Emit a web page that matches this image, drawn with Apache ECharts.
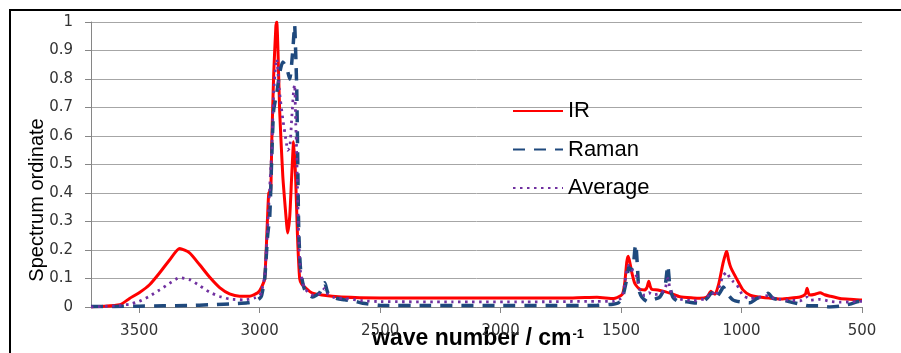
<!DOCTYPE html>
<html>
<head>
<meta charset="utf-8">
<script src="https://cdn.jsdelivr.net/npm/echarts@6/dist/echarts.min.js"></script>
<style>
  html, body { margin: 0; padding: 0; background: #fff; }
  #chart { width: 901px; height: 353px; }
</style>
</head>
<body>
<div id="chart"></div>
<script>
// wave numbers (cm-1) and ordinates
const irX = [3700, 3665, 3580, 3540, 3500, 3457, 3415, 3374, 3332, 3291, 3249, 3208, 3166, 3125, 3083, 3042, 3008, 2992, 2979, 2967, 2962, 2954, 2950, 2942, 2933, 2929, 2924, 2917, 2904, 2888, 2884, 2875, 2867, 2859, 2851, 2843, 2834, 2825, 2813, 2784, 2742, 2660, 2500, 2200, 1900, 1700, 1600, 1530, 1500, 1492, 1484, 1476, 1470, 1462, 1455, 1443, 1422, 1401, 1392, 1385, 1378, 1372, 1347, 1318, 1289, 1256, 1200, 1173, 1144, 1127, 1118, 1110, 1094, 1077, 1065, 1061, 1055, 1048, 1040, 1019, 994, 965, 936, 882, 840, 811, 757, 735, 728, 722, 716, 695, 674, 655, 633, 591, 550, 508, 500]
const irY = [0.0, 0.002, 0.008, 0.03, 0.05, 0.078, 0.12, 0.165, 0.205, 0.19, 0.148, 0.105, 0.068, 0.046, 0.038, 0.038, 0.05, 0.07, 0.1, 0.32, 0.4, 0.41, 0.57, 0.81, 0.98, 1.0, 0.9, 0.69, 0.46, 0.29, 0.26, 0.32, 0.46, 0.58, 0.46, 0.25, 0.1, 0.08, 0.07, 0.05, 0.042, 0.035, 0.032, 0.032, 0.032, 0.032, 0.034, 0.03, 0.04, 0.05, 0.09, 0.16, 0.178, 0.15, 0.12, 0.083, 0.062, 0.06, 0.07, 0.09, 0.07, 0.062, 0.06, 0.054, 0.046, 0.036, 0.032, 0.031, 0.035, 0.055, 0.048, 0.045, 0.083, 0.153, 0.19, 0.195, 0.17, 0.147, 0.13, 0.097, 0.06, 0.042, 0.036, 0.031, 0.028, 0.03, 0.035, 0.045, 0.066, 0.048, 0.042, 0.045, 0.05, 0.043, 0.038, 0.03, 0.027, 0.025, 0.025]

const ramanX = [3700, 3600, 3500, 3400, 3300, 3200, 3100, 3050, 3020, 3000, 2992, 2979, 2967, 2958, 2950, 2942, 2929, 2917, 2904, 2888, 2875, 2867, 2860, 2855, 2850, 2846, 2842, 2838, 2830, 2813, 2780, 2751, 2730, 2717, 2689, 2647, 2614, 2572, 2502, 2300, 2000, 1800, 1600, 1534, 1510, 1492, 1476, 1468, 1460, 1450, 1443, 1439, 1432, 1426, 1414, 1389, 1368, 1339, 1318, 1306, 1297, 1285, 1264, 1227, 1173, 1144, 1123, 1110, 1090, 1075, 1062, 1036, 1007, 965, 936, 911, 890, 869, 828, 799, 757, 716, 674, 633, 591, 550, 508, 500]
const ramanY = [0.002, 0.002, 0.003, 0.004, 0.005, 0.008, 0.012, 0.015, 0.02, 0.03, 0.04, 0.1, 0.25, 0.32, 0.52, 0.69, 0.75, 0.82, 0.86, 0.84, 0.8, 0.855, 0.93, 0.99, 0.88, 0.76, 0.52, 0.28, 0.13, 0.06, 0.035, 0.05, 0.085, 0.05, 0.032, 0.025, 0.022, 0.013, 0.006, 0.005, 0.005, 0.005, 0.006, 0.01, 0.015, 0.04, 0.1, 0.14, 0.13, 0.14, 0.2, 0.22, 0.14, 0.06, 0.035, 0.018, 0.025, 0.035, 0.07, 0.145, 0.07, 0.035, 0.02, 0.018, 0.013, 0.03, 0.05, 0.03, 0.05, 0.07, 0.05, 0.025, 0.018, 0.015, 0.03, 0.036, 0.048, 0.03, 0.025, 0.018, 0.01, 0.004, 0.004, 0.0, 0.003, 0.01, 0.02, 0.02]

const avgX = [3700, 3600, 3540, 3500, 3457, 3415, 3374, 3332, 3291, 3249, 3208, 3166, 3125, 3063, 3021, 3000, 2992, 2979, 2967, 2962, 2950, 2942, 2933, 2929, 2922, 2917, 2904, 2888, 2884, 2875, 2867, 2859, 2855, 2850, 2846, 2842, 2838, 2830, 2813, 2780, 2751, 2730, 2717, 2689, 2647, 2572, 2500, 2200, 1900, 1600, 1534, 1500, 1492, 1476, 1468, 1455, 1443, 1432, 1422, 1401, 1385, 1368, 1339, 1318, 1306, 1297, 1285, 1256, 1200, 1150, 1123, 1110, 1094, 1077, 1065, 1061, 1048, 1036, 1019, 994, 965, 936, 890, 882, 840, 800, 757, 728, 716, 674, 633, 591, 550, 508, 500]
const avgY = [0.0, 0.004, 0.01, 0.02, 0.038, 0.06, 0.083, 0.103, 0.096, 0.075, 0.052, 0.037, 0.028, 0.025, 0.032, 0.04, 0.055, 0.11, 0.28, 0.36, 0.55, 0.75, 0.85, 0.87, 0.8, 0.75, 0.66, 0.57, 0.55, 0.56, 0.66, 0.76, 0.78, 0.64, 0.53, 0.38, 0.25, 0.12, 0.065, 0.042, 0.046, 0.065, 0.045, 0.033, 0.03, 0.022, 0.019, 0.018, 0.018, 0.02, 0.02, 0.03, 0.045, 0.13, 0.147, 0.13, 0.12, 0.1, 0.06, 0.04, 0.05, 0.043, 0.047, 0.062, 0.1, 0.065, 0.04, 0.028, 0.022, 0.03, 0.052, 0.038, 0.066, 0.11, 0.12, 0.122, 0.1, 0.09, 0.077, 0.04, 0.03, 0.033, 0.04, 0.035, 0.027, 0.024, 0.022, 0.035, 0.024, 0.027, 0.02, 0.017, 0.018, 0.02, 0.02]

const xTicks = [500, 1000, 1500, 2000, 2500, 3000, 3500]

const zip = (xs, ys) => xs.map((x, i) => [x, ys[i]])

const chart = echarts.init(document.getElementById('chart'))

const option = {
  animation: false,
  backgroundColor: '#fff',
  textStyle: { fontFamily: 'Liberation Sans' },
  grid: { left: 91, right: 39, top: 22, bottom: 46 },
  legend: {
    orient: 'vertical',
    left: 512,
    top: 100,
    padding: 0,
    itemWidth: 50,
    itemHeight: 14,
    itemGap: 16.5,
    // hide the marker dot, keep only the line sample
    itemStyle: { color: 'rgba(0,0,0,0)', borderColor: 'rgba(0,0,0,0)', borderWidth: 0 },
    textStyle: { fontSize: 22, color: '#000', lineHeight: 22, fontFamily: 'Liberation Sans' },
    data: ['IR', 'Raman', 'Average']
  },
  xAxis: {
    type: 'value',
    inverse: true,
    min: 500,
    max: 3700,
    interval: 500,
    axisLine: { show: true, lineStyle: { color: '#868686', width: 1 } },
    axisTick: { show: true, length: 6, lineStyle: { color: '#868686' } },
    splitLine: { show: false },
    axisLabel: {
      margin: 17,
      fontSize: 15,
      fontFamily: 'DejaVu Sans',
      color: '#333',
      showMaxLabel: false,
      formatter: (v) => (xTicks.includes(v) ? String(v) : '')
    }
  },
  yAxis: {
    type: 'value',
    min: 0,
    max: 1,
    interval: 0.1,
    axisLine: { show: true, lineStyle: { color: '#868686', width: 1 } },
    axisTick: { show: true, length: 6, lineStyle: { color: '#868686' } },
    splitLine: { show: true, lineStyle: { color: '#a6a6a6', width: 1 } },
    axisLabel: {
      margin: 18,
      fontSize: 15,
      fontFamily: 'DejaVu Sans',
      color: '#333'
    }
  },
  graphic: [
    {
      type: 'rect',
      shape: { x: 10, y: 10, width: 960, height: 400 },
      style: { fill: 'none', stroke: '#000', lineWidth: 2 },
      silent: true
    },
    {
      type: 'text',
      x: 37,
      y: 200,
      rotation: Math.PI / 2,
      style: {
        text: 'Spectrum ordinate',
        fontSize: 20,
        fontFamily: 'Liberation Sans',
        fill: '#000',
        align: 'center',
        verticalAlign: 'middle'
      }
    },
    {
      type: 'text',
      x: 478,
      y: 339,
      style: {
        text: '{a|wave number / cm}{b|-1}',
        align: 'center',
        verticalAlign: 'middle',
        rich: {
          a: { fontSize: 23, fontWeight: 'bold', fontFamily: 'Liberation Sans', fill: '#000', height: 24 },
          b: { fontSize: 13, fontWeight: 'bold', fontFamily: 'Liberation Sans', fill: '#000', verticalAlign: 'top', height: 24, padding: [0, 0, 10, 1] }
        }
      }
    }
  ],
  series: [
    {
      name: 'IR',
      type: 'line',
      data: zip(irX, irY),
      symbol: 'none',
      smooth: 0.2,
      lineStyle: { color: '#ff0000', width: 3 },
      itemStyle: { color: '#ff0000' }
    },
    {
      name: 'Raman',
      type: 'line',
      data: zip(ramanX, ramanY),
      symbol: 'none',
      smooth: 0.2,
      lineStyle: { color: '#1f497d', width: 3.5, type: [12, 9] },
      itemStyle: { color: '#1f497d' }
    },
    {
      name: 'Average',
      type: 'line',
      data: zip(avgX, avgY),
      symbol: 'none',
      smooth: 0.2,
      lineStyle: { color: '#7030a0', width: 2.8, type: [2.5, 4.5] },
      itemStyle: { color: '#7030a0' }
    }
  ]
}

chart.setOption(option)

window.addEventListener('resize', () => chart.resize())
</script>
</body>
</html>
